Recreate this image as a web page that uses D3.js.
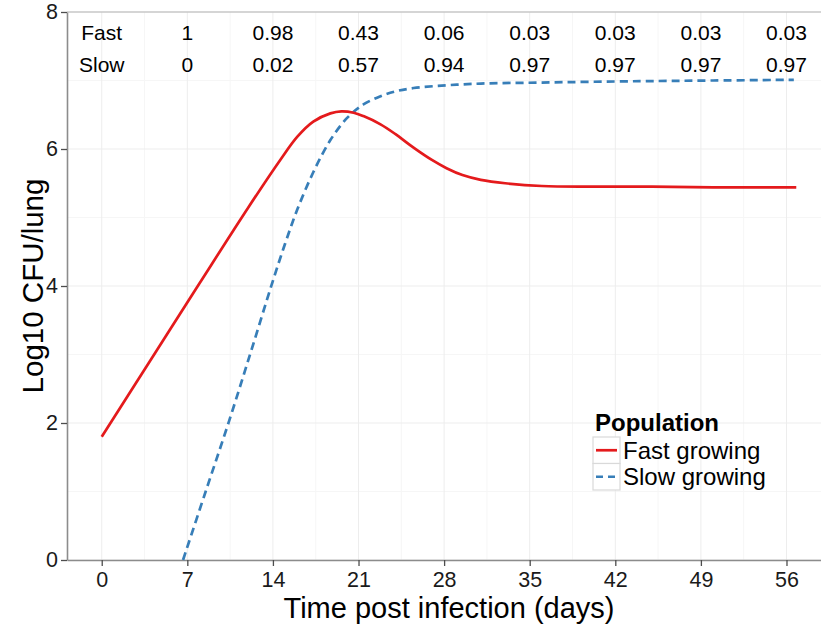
<!DOCTYPE html>
<html>
<head>
<meta charset="utf-8">
<script src="https://cdn.jsdelivr.net/npm/d3@7"></script>
<style>
  html, body { margin: 0; padding: 0; background: #ffffff; }
  svg { display: block; font-family: "Liberation Sans", Arial, sans-serif; }
</style>
</head>
<body>
<div id="container"></div>
<script>
"use strict";

// Model output (days, log10 CFU/lung).
const fastDays = [0, 4, 8, 12, 14.6, 16, 17.3, 18.7, 19.6, 20.6, 21.4, 22.8, 24, 25.5, 27, 28.2, 29.5, 31, 33, 36, 40, 45, 50, 56.8];
const fastValues = [1.8, 2.92, 4.04, 5.15, 5.84, 6.18, 6.4, 6.52, 6.55, 6.53, 6.48, 6.36, 6.22, 6.02, 5.84, 5.72, 5.62, 5.55, 5.5, 5.46, 5.45, 5.45, 5.44, 5.44];
const slowDays = [6.65, 8.5, 10.4, 12.2, 13.9, 15, 16, 17.3, 18.7, 20.05, 21.4, 22.8, 24, 25.5, 28.2, 31, 35.9, 44, 50, 56.6];
const slowValues = [0, 1.0, 2.02, 3.04, 4.02, 4.62, 5.12, 5.66, 6.13, 6.45, 6.65, 6.77, 6.84, 6.89, 6.93, 6.955, 6.97, 6.99, 7.0, 7.01];

// Proportion table printed across the top of the panel.
const tableDays = [0, 7, 14, 21, 28, 35, 42, 49, 56];
const fastRow = ["Fast", "1", "0.98", "0.43", "0.06", "0.03", "0.03", "0.03", "0.03"];
const slowRow = ["Slow", "0", "0.02", "0.57", "0.94", "0.97", "0.97", "0.97", "0.97"];
const tableRowY = [7.7, 7.24];

const xTicks = [0, 7, 14, 21, 28, 35, 42, 49, 56];
const yTicks = [0, 2, 4, 6, 8];
const seriesNames = ["Fast growing", "Slow growing"];

const width = 821;
const height = 625;
const margin = { top: 12, right: -10, bottom: 65, left: 67 };
const red = "#e41a1c";
const blue = "#377eb8";
const dash = "8,5";

// ggplot style 5% expansion on x.
const xMax = 56.8;
const xPad = xMax * 0.05;

const x = d3
  .scaleLinear()
  .domain([-xPad, xMax + xPad])
  .range([margin.left, width - margin.right]);
const y = d3
  .scaleLinear()
  .domain([0, 8])
  .range([height - margin.bottom, margin.top]);

const svg = d3
  .select("#container")
  .append("svg")
  .attr("width", width)
  .attr("height", height);

// Grid lines, minor first.
const grid = svg.append("g");
const xMinor = xTicks.map((d) => d + 3.5).filter((d) => d < xMax + xPad);
const yMinor = [1, 3, 5, 7];
const gridLines = (cls, data, vertical, colour) =>
  grid
    .selectAll(`.${cls}`)
    .data(data)
    .enter()
    .append("line")
    .attr("class", cls)
    .attr("x1", (d) => (vertical ? x(d) : x.range()[0]))
    .attr("x2", (d) => (vertical ? x(d) : x.range()[1]))
    .attr("y1", (d) => (vertical ? y(0) : y(d)))
    .attr("y2", (d) => (vertical ? y(8) : y(d)))
    .style("stroke", colour)
    .style("stroke-width", 1);
gridLines("vminor", xMinor, true, "#f6f6f6");
gridLines("hminor", yMinor, false, "#f6f6f6");
gridLines("vmajor", xTicks, true, "#ededed");
gridLines("hmajor", yTicks, false, "#ededed");

// Panel top border.
svg
  .append("line")
  .attr("x1", x.range()[0])
  .attr("x2", x.range()[1])
  .attr("y1", y(8))
  .attr("y2", y(8))
  .style("stroke", "#b3b3b3")
  .style("stroke-width", 1.2);

// Draw x-axis.
const xAxis = svg
  .append("g")
  .attr("transform", `translate(0, ${y(0)})`)
  .call(d3.axisBottom(x).tickValues(xTicks).tickSize(6).tickSizeOuter(0));

// Draw y-axis.
const yAxis = svg
  .append("g")
  .attr("transform", `translate(${x.range()[0]}, 0)`)
  .call(d3.axisLeft(y).tickValues(yTicks).tickSize(6).tickSizeOuter(0).tickPadding(3));

[xAxis, yAxis].forEach((g) => {
  g.select(".domain").style("stroke", "#8c8c8c").style("stroke-width", 1.6);
  g.selectAll(".tick line").style("stroke", "#4d4d4d").style("stroke-width", 1.3);
  g.selectAll(".tick text")
    .style("font-family", "'Liberation Sans', Arial, sans-serif")
    .style("font-size", "21.5px")
    .style("fill", "#1a1a1a");
});
// Put x tick labels on a fixed baseline.
xAxis.selectAll(".tick text").attr("y", 27).attr("dy", null);

// Axis titles.
svg
  .append("text")
  .attr("x", (x.range()[0] + x.range()[1]) / 2)
  .attr("y", 618)
  .attr("text-anchor", "middle")
  .style("font-size", "29px")
  .style("fill", "#000")
  .text("Time post infection (days)");
svg
  .append("text")
  .attr("transform", `translate(43, ${(y(0) + y(8)) / 2}) rotate(-90)`)
  .attr("text-anchor", "middle")
  .style("font-size", "29.5px")
  .style("fill", "#000")
  .text("Log10 CFU/lung");

// Curves.
const line = d3
  .line()
  .x((d) => x(d[0]))
  .y((d) => y(d[1]))
  .curve(d3.curveCatmullRom.alpha(0.5));

const plot = svg.append("g");
plot
  .append("path")
  .datum(slowDays.map((d, i) => [d, slowValues[i]]))
  .attr("d", line)
  .style("fill", "none")
  .style("stroke", blue)
  .style("stroke-width", 2.7)
  .style("stroke-dasharray", dash);
plot
  .append("path")
  .datum(fastDays.map((d, i) => [d, fastValues[i]]))
  .attr("d", line)
  .style("fill", "none")
  .style("stroke", red)
  .style("stroke-width", 2.7);

// Proportion table.
[fastRow, slowRow].forEach((row, r) => {
  svg
    .append("g")
    .selectAll("text")
    .data(row)
    .enter()
    .append("text")
    .attr("x", (d, i) => x(tableDays[i]))
    .attr("y", y(tableRowY[r]))
    .attr("dy", "0.36em")
    .attr("text-anchor", "middle")
    .style("font-size", "21px")
    .style("fill", "#000")
    .text((d) => d);
});

// Legend.
const legend = svg.append("g").attr("transform", "translate(593, 0)");
legend
  .append("text")
  .attr("x", 2)
  .attr("y", 431)
  .style("font-size", "24px")
  .style("font-weight", "bold")
  .text("Population");

const keyTop = 437;
const keySize = 26.5;
const keys = legend
  .selectAll(".key")
  .data(seriesNames)
  .enter()
  .append("g")
  .attr("transform", (d, i) => `translate(0, ${keyTop + i * keySize})`);
keys
  .append("rect")
  .attr("width", 27)
  .attr("height", keySize)
  .style("fill", "#fff")
  .style("stroke", "#d9d9d9")
  .style("stroke-width", 1.2);
keys
  .append("line")
  .attr("x1", 3)
  .attr("x2", 24)
  .attr("y1", keySize / 2)
  .attr("y2", keySize / 2)
  .style("stroke", (d, i) => (i === 0 ? red : blue))
  .style("stroke-width", 2.7)
  .style("stroke-dasharray", (d, i) => (i === 0 ? null : "7,5"));
keys
  .append("text")
  .attr("x", 30)
  .attr("y", keySize / 2)
  .attr("dy", "0.36em")
  .style("font-size", "24px")
  .text((d) => d);
</script>
</body>
</html>
